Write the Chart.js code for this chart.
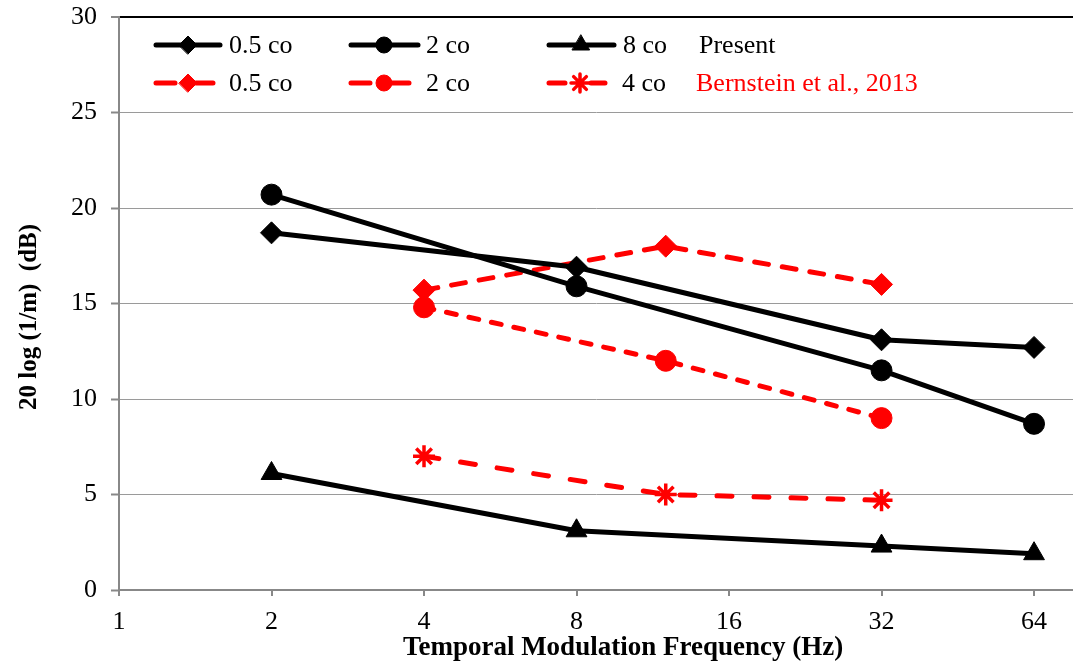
<!DOCTYPE html>
<html>
<head>
<meta charset="utf-8">
<script src="https://cdn.jsdelivr.net/npm/chart.js@4/dist/chart.umd.min.js"></script>
<style>
  html, body { margin: 0; padding: 0; background: #fff; }
  #wrap { width: 1073px; height: 664px; }
</style>
</head>
<body>
<div id="wrap"><canvas id="c" width="1073" height="664"></canvas></div>
<script>
// ---- data ----
const freqPresent = [2, 8, 32, 64];
const present05 = [18.7, 16.9, 13.1, 12.7];
const present2 = [20.7, 15.9, 11.5, 8.7];
const present8 = [6.1, 3.1, 2.3, 1.9];

const freqBernstein = [4, 12, 32];
const bern05 = [15.7, 18.0, 16.0];
const bern2 = [14.8, 12.0, 9.0];
const bern4 = [7.0, 5.0, 4.7];

const xTickValues = [1, 2, 4, 8, 16, 32, 64];
const yTickStep = 5;
const seriesLabels = ['0.5 co', '2 co', '8 co', '0.5 co', '2 co', '4 co'];
const groupLabels = ['Present', 'Bernstein et al., 2013'];
const xTitle = 'Temporal Modulation Frequency (Hz)';
const yTitle = '20 log (1/m)  (dB)';

const pts = (xs, ys) => xs.map((x, i) => ({ x: x, y: ys[i] }));

const FONT = "'Liberation Serif', 'Times New Roman', serif";
const RED = '#ff0000';

function ds(label, xs, ys, color, style, radius, dash, bw) {
  return {
    label: label,
    data: pts(xs, ys),
    borderColor: color,
    backgroundColor: color,
    borderWidth: 5,
    borderDash: dash || [],
    borderCapStyle: dash ? 'round' : 'butt',
    borderJoinStyle: 'round',
    pointStyle: style,
    pointRadius: radius,
    pointHoverRadius: radius,
    pointBackgroundColor: color,
    pointBorderColor: color,
    pointBorderWidth: bw || 1,
    tension: 0,
    fill: false,
    clip: false
  };
}

const datasets = [
  ds(seriesLabels[0], freqPresent, present05, '#000', 'rectRot', 11),
  ds(seriesLabels[1], freqPresent, present2, '#000', 'circle', 10.5),
  ds(seriesLabels[2], freqPresent, present8, '#000', 'triangle', 12),
  ds(seriesLabels[3], freqBernstein, bern05, RED, 'rectRot', 11, [14, 14]),
  ds(seriesLabels[4], freqBernstein, bern2, RED, 'circle', 10.5, [10, 13]),
  ds(seriesLabels[5], freqBernstein, bern4, RED, 'star', 11, [15, 22], 3.5)
];

// custom in-plot legend + axis titles
const legendPlugin = {
  id: 'inplotLegend',
  afterDraw(chart, args, opts) {
    const ctx = chart.ctx;
    const slots = opts.slots;
    ctx.save();
    chart.data.datasets.forEach((d, i) => {
      const s = slots[i];
      ctx.save();
      ctx.strokeStyle = d.borderColor;
      ctx.lineWidth = d.borderWidth;
      ctx.lineCap = 'round';
      ctx.beginPath();
      if (d.borderDash && d.borderDash.length) {
        ctx.moveTo(s.x0, s.y);
        ctx.lineTo(s.x0 + s.seg, s.y);
        ctx.moveTo(s.x1 - s.seg + 2, s.y);
        ctx.lineTo(s.x1, s.y);
      } else {
        ctx.moveTo(s.x0, s.y);
        ctx.lineTo(s.x1, s.y);
      }
      ctx.stroke();
      ctx.fillStyle = d.pointBackgroundColor;
      ctx.strokeStyle = d.pointBorderColor;
      ctx.lineWidth = d.pointBorderWidth;
      const r = Math.round(d.pointRadius * 0.8);
      if (Chart.helpers && Chart.helpers.drawPoint) {
        Chart.helpers.drawPoint(ctx, { pointStyle: d.pointStyle, radius: r, borderWidth: d.pointBorderWidth, rotation: 0 }, s.mx, s.y);
      }
      ctx.restore();
      ctx.fillStyle = '#000';
      ctx.font = '26px ' + FONT;
      ctx.textBaseline = 'middle';
      ctx.textAlign = 'left';
      ctx.fillText(d.label, s.tx, s.y + 1);
    });
    ctx.font = '26px ' + FONT;
    ctx.textBaseline = 'middle';
    ctx.fillStyle = '#000';
    ctx.fillText(groupLabels[0], opts.groupX[0], opts.rows[0] + 1);
    ctx.fillStyle = RED;
    ctx.fillText(groupLabels[1], opts.groupX[1], opts.rows[1] + 1);

    // axis titles
    ctx.fillStyle = '#000';
    ctx.textAlign = 'center';
    ctx.textBaseline = 'middle';
    ctx.font = 'bold 27px ' + FONT;
    ctx.fillText(xTitle, opts.xTitlePos[0], opts.xTitlePos[1]);
    ctx.translate(opts.yTitlePos[0], opts.yTitlePos[1]);
    ctx.rotate(-Math.PI / 2);
    ctx.font = 'bold 25px ' + FONT;
    ctx.fillText(yTitle, 0, 0);
    ctx.restore();
  }
};

const ROW1 = 45, ROW2 = 83;

function zeroPad(scale) {
  scale.paddingLeft = 0;
  scale.paddingRight = 0;
  scale.paddingTop = 0;
  scale.paddingBottom = 0;
}

new Chart(document.getElementById('c'), {
  type: 'line',
  data: { datasets: datasets },
  plugins: [legendPlugin],
  options: {
    responsive: false,
    animation: false,
    events: [],
    layout: { autoPadding: false, padding: { top: 17, right: 0, left: 0, bottom: 0 } },
    plugins: {
      legend: { display: false },
      tooltip: { enabled: false },
      inplotLegend: {
        rows: [ROW1, ROW2],
        groupX: [699, 696],
        xTitlePos: [623, 648],
        yTitlePos: [30, 317],
        slots: [
          { x0: 156, x1: 220, mx: 188, y: ROW1, tx: 229, seg: 0 },
          { x0: 351, x1: 418, mx: 384, y: ROW1, tx: 426, seg: 0 },
          { x0: 549, x1: 614, mx: 581, y: ROW1, tx: 623, seg: 0 },
          { x0: 156, x1: 213, mx: 188, y: ROW2, tx: 229, seg: 19 },
          { x0: 351, x1: 409, mx: 384, y: ROW2, tx: 426, seg: 19 },
          { x0: 549, x1: 605, mx: 580, y: ROW2, tx: 622, seg: 16 }
        ]
      }
    },
    scales: {
      x: {
        type: 'logarithmic',
        min: 1,
        max: 76.4,
        afterBuildTicks(scale) {
          scale.ticks = xTickValues.map(v => ({ value: v }));
        },
        afterFit(scale) {
          scale.height = 74;
          zeroPad(scale);
        },
        ticks: {
          autoSkip: false,
          maxRotation: 0,
          padding: 11,
          color: '#000',
          font: { family: FONT, size: 26 },
          callback: (v) => String(v)
        },
        grid: { drawOnChartArea: false, drawTicks: true, tickLength: 6, color: '#888', lineWidth: 2 },
        border: { display: true, color: '#888', width: 2 },
        title: { display: false }
      },
      y: {
        type: 'linear',
        min: 0,
        max: 30,
        afterFit(scale) {
          scale.width = 119;
          zeroPad(scale);
        },
        ticks: {
          stepSize: yTickStep,
          padding: 14,
          color: '#000',
          font: { family: FONT, size: 26 }
        },
        grid: {
          drawTicks: true,
          tickLength: 8,
          tickColor: '#888',
          tickWidth: 2,
          color: (c) => (c.tick && c.tick.value === 30 ? '#000' : '#9a9a9a'),
          lineWidth: (c) => (c.tick && c.tick.value === 30 ? 2 : 1)
        },
        border: { display: true, color: '#888', width: 2 },
        title: { display: false }
      }
    }
  }
});
</script>
</body>
</html>
